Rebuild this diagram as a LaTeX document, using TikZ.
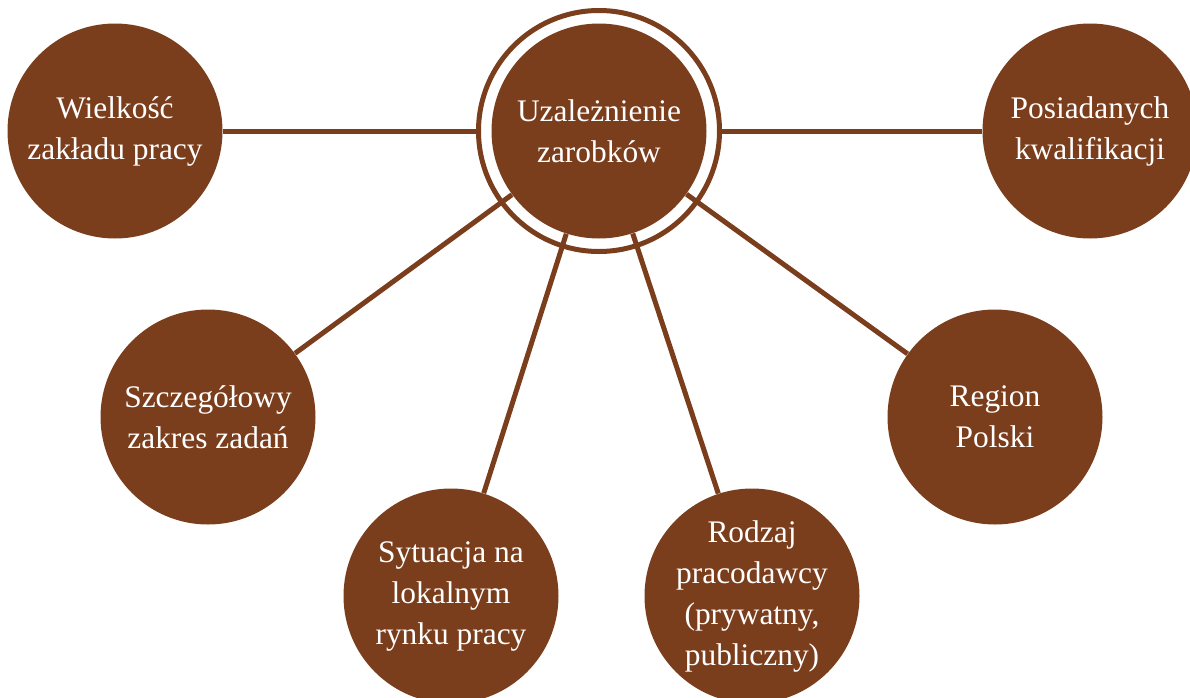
\documentclass[tikz,border=0pt]{standalone}
\usepackage{fontspec}
\setmainfont{Liberation Serif}
\definecolor{rust}{RGB}{123,62,29}

\begin{document}
\begin{tikzpicture}[x=0.5pt,y=-0.5pt,
  circ/.style={circle,fill=rust,text=white,minimum size=107.5pt,inner sep=0pt,align=center,font=\fontsize{15.7}{20.5}\selectfont},
  link/.style={draw=rust,line width=2.5pt}]
\useasboundingbox (0,0) rectangle (1190,697);

\node[circle,draw=rust,line width=2.5pt,minimum size=120.5pt] (R) at (599,131) {};
\node[circ] (A) at (599,131) {Uzależnienie\\zarobków};
\node[circ] (B) at (115,131) {Wielkość\\zakładu pracy};
\node[circ] (C) at (1090,131) {Posiadanych\\kwalifikacji};
\node[circ] (D) at (208,417) {Szczegółowy\\zakres zadań};
\node[circ] (E) at (451,596) {Sytuacja na\\lokalnym\\rynku pracy};
\node[circ] (F) at (752,596) {Rodzaj\\pracodawcy\\(prywatny,\\publiczny)};
\node[circ] (G) at (995,417) {Region\\Polski};

\draw[link] (B) to (R);
\draw[link] (R) to (C);
\draw[link] (A) to (D);
\draw[link] (A) to (E);
\draw[link] (A) to (F);
\draw[link] (A) to (G);

\end{tikzpicture}
\end{document}
